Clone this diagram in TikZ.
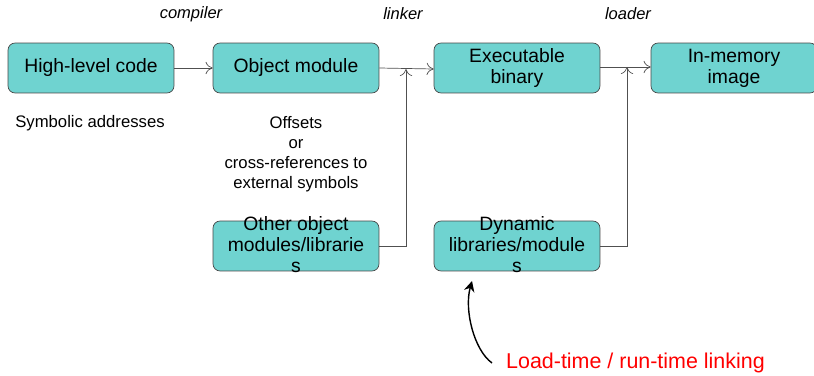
\documentclass[tikz,border=0pt]{standalone}
\usepackage{fontspec}
\setmainfont{Liberation Sans}
\usetikzlibrary{arrows.meta}
\definecolor{boxfill}{RGB}{111,211,208}
\definecolor{boxline}{RGB}{70,70,70}
\definecolor{wire}{RGB}{80,80,80}

\tikzset{
	stage/.style={draw=boxline, fill=boxfill, rounded corners=4pt, minimum width=3.32cm,
		minimum height=1cm, inner sep=0pt, align=center, font=\fontsize{11}{12}\selectfont},
	tool/.style={font=\fontsize{9.4}{10}\selectfont\itshape},
	note/.style={font=\fontsize{9.5}{11.3}\selectfont, align=center},
	flow/.style={draw=wire, -{To[length=4pt,width=7pt]}},
}

\begin{document}
\begin{tikzpicture}[x=0.02cm, y=-0.02cm]
	\useasboundingbox (0, 0) rectangle (814, 375);

	\node[stage] (hlc) at (91, 68) {High-level code};
	\node[stage] (obj) at (296, 68) {Object module};
	\node[stage] (exe) at (517, 68) {Executable\\binary};
	\node[stage] (mem) at (734, 68) {In-memory\\image};
	\node[stage] (other) at (296, 246) {\smash{\raisebox{-3.5pt}{\begin{tabular}{@{}c@{}}Other object\\modules/librarie\\s\end{tabular}}}};
	\node[stage] (dyn) at (517, 246) {\smash{\raisebox{-3.5pt}{\begin{tabular}{@{}c@{}}Dynamic\\libraries/module\\s\end{tabular}}}};

	\node[tool] (compiler) at (191, 14) {compiler};
	\node[tool] (linker) at (403, 14) {linker};
	\node[tool] (loader) at (628, 14) {loader};

	\node[note] (symb) at (90, 123) {Symbolic addresses};
	\node[note] (offs) at (296, 154) {Offsets\\or\\cross-references to\\external symbols};

	\coordinate (lnk) at (406, 69);
	\coordinate (ldr) at (627, 67);

	\draw[flow] (hlc) -- (obj);
	\draw[flow] (obj.east) -- (exe.west |- lnk);
	\draw[flow] (other.east) -| (lnk);
	\draw[flow] (exe.east |- ldr) -- (mem.west |- ldr);
	\draw[flow] (dyn.east) -| (ldr);

	\node[anchor=west, text=red, font=\fontsize{12.2}{14}\selectfont] (ltl) at (500, 363) {Load-time / run-time linking};
	\coordinate (ltip) at (472, 281);
	\draw[thick, -{Stealth[length=6pt,width=6pt]}] ([xshift=-0.16cm]ltl.west) .. controls (474, 350) and (464, 310) .. (ltip);
\end{tikzpicture}
\end{document}
